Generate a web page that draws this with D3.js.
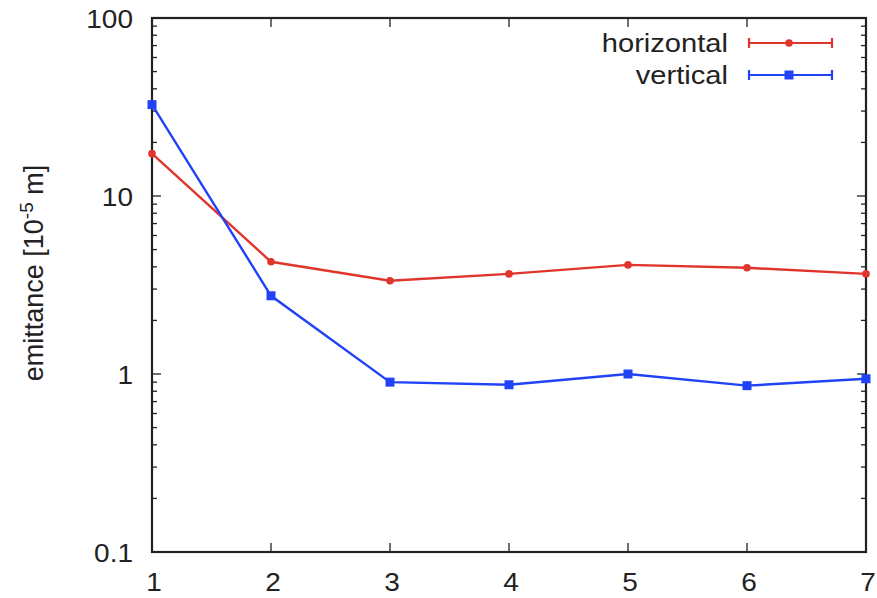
<!DOCTYPE html>
<html><head><meta charset="utf-8">
<script src="https://cdn.jsdelivr.net/npm/d3@7"></script>
<style>body{margin:0;background:#fff}svg{display:block}text{font-family:"Liberation Sans",Arial,sans-serif}</style>
</head><body>
<svg id="c" width="877" height="598"></svg>
<script>
const xValues = [1, 2, 3, 4, 5, 6, 7];
const horizontal = [17.3, 4.27, 3.34, 3.65, 4.1, 3.95, 3.65];
const vertical = [32.6, 2.75, 0.90, 0.87, 1.0, 0.86, 0.94];
const yTicks = [0.1, 1, 10, 100];
const yTickLabels = ["0.1", "1", "10", "100"];
const seriesNames = ["horizontal", "vertical"];

const svg = d3.select("#c");
const L = 152, R = 866, T = 18, B = 552;
const x = d3.scaleLinear().domain([1, 7]).range([L, R]);
const y = d3.scaleLog().domain([0.1, 100]).range([B, T]);
const colors = ["#e0352c", "#2143f8"];
const SX = 1.12;

// minor ticks
const minor = [];
for (let d = 0.1; d < 100; d *= 10) for (let k = 2; k <= 9; k++) minor.push(+(d * k).toPrecision(3));
const g = svg.append("g").attr("stroke", "#222").attr("stroke-width", 1.3);
minor.forEach(v => {
  g.append("line").attr("x1", L).attr("x2", L + 5).attr("y1", y(v)).attr("y2", y(v));
  g.append("line").attr("x1", R).attr("x2", R - 5).attr("y1", y(v)).attr("y2", y(v));
});
yTicks.forEach(v => {
  g.append("line").attr("x1", L).attr("x2", L + 9).attr("y1", y(v)).attr("y2", y(v));
  g.append("line").attr("x1", R).attr("x2", R - 9).attr("y1", y(v)).attr("y2", y(v));
});
xValues.forEach(v => {
  g.append("line").attr("x1", x(v)).attr("x2", x(v)).attr("y1", B).attr("y2", B - 9);
  g.append("line").attr("x1", x(v)).attr("x2", x(v)).attr("y1", T).attr("y2", T + 9);
});
svg.append("rect").attr("x", L).attr("y", T).attr("width", R - L).attr("height", B - T)
  .attr("fill", "none").attr("stroke", "#222").attr("stroke-width", 2.2);

// tick labels (slightly wide text, as in the reference)
svg.append("g").selectAll("text").data(yTicks).join("text")
  .attr("transform", d => `translate(${L - 19},${y(d) + 10}) scale(${SX},1)`)
  .attr("text-anchor", "end")
  .attr("font-size", 25).attr("fill", "#222").text((d, i) => yTickLabels[i]);
svg.append("g").selectAll("text").data(xValues).join("text")
  .attr("transform", d => `translate(${x(d) + 2},${B + 39}) scale(${SX},1)`)
  .attr("text-anchor", "middle")
  .attr("font-size", 25).attr("fill", "#222").text(d => d);

// y label
const yl = svg.append("text").attr("transform", "translate(43,273) rotate(-90)")
  .attr("text-anchor", "middle").attr("font-size", 27).attr("fill", "#222");
yl.append("tspan").text("emittance [10");
yl.append("tspan").attr("dy", -10).attr("font-size", 19).text("-5");
yl.append("tspan").attr("dy", 10).text(" m]");

// lines
const line = d3.line().x((d, i) => x(xValues[i])).y(d => y(d));
[horizontal, vertical].forEach((s, si) => {
  svg.append("path").datum(s).attr("d", line).attr("fill", "none")
    .attr("stroke", colors[si]).attr("stroke-width", 2.4);
  svg.append("g").selectAll("g").data(s).join("g")
    .attr("transform", (d, i) => `translate(${x(xValues[i])},${y(d)})`)
    .each(function () { drawMarker(d3.select(this), si); });
});

function drawMarker(sel, si) {
  if (si === 0) {
    sel.append("circle").attr("r", 3.8).attr("fill", colors[0]);
  } else {
    sel.append("rect").attr("x", -4.5).attr("y", -4.5).attr("width", 9).attr("height", 9).attr("fill", colors[1]);
  }
}

// legend
const ly = [43, 75];
seriesNames.forEach((n, i) => {
  svg.append("text").attr("transform", `translate(728,${ly[i] + 9}) scale(${SX},1)`)
    .attr("text-anchor", "end")
    .attr("font-size", 26).attr("fill", "#222").text(n);
  const lg = svg.append("g").attr("stroke", colors[i]).attr("stroke-width", 2.2);
  lg.append("line").attr("x1", 749).attr("x2", 832).attr("y1", ly[i]).attr("y2", ly[i]);
  lg.append("line").attr("x1", 749).attr("x2", 749).attr("y1", ly[i] - 5).attr("y2", ly[i] + 5);
  lg.append("line").attr("x1", 832).attr("x2", 832).attr("y1", ly[i] - 5).attr("y2", ly[i] + 5);
  drawMarker(svg.append("g").attr("transform", `translate(789,${ly[i]})`), i);
});
</script>
</body></html>
